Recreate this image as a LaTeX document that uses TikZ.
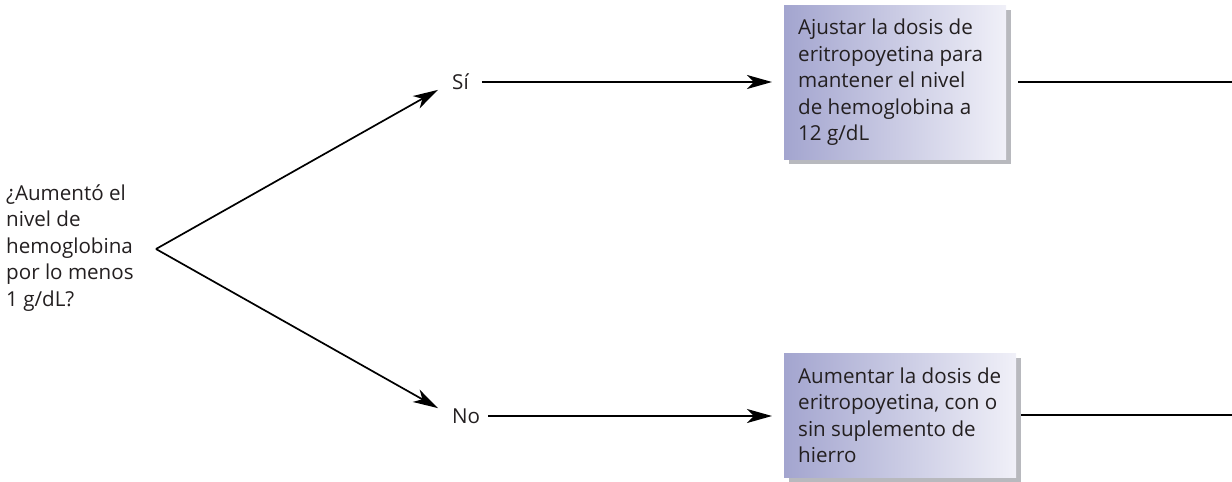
\documentclass[tikz,border=0pt]{standalone}
\usepackage{fontspec}
\setmainfont{Open Sans}
\usetikzlibrary{arrows.meta,shadows}
\definecolor{inkgray}{RGB}{35,31,32}
\definecolor{boxleft}{RGB}{163,165,207}
\definecolor{boxright}{RGB}{240,240,248}
\definecolor{shadowgray}{RGB}{184,185,190}

\begin{document}
\begin{tikzpicture}[x=1pt,y=-1pt,
  txt/.style={font=\fontsize{20.6}{26.5}\selectfont, text=inkgray, align=left, inner sep=0pt},
  answer/.style={font=\fontsize{20.6}{24}\selectfont, text=inkgray, inner sep=0pt},
  actionbox/.style={draw=none, left color=boxleft, right color=boxright, inner sep=0pt,
    anchor=north west,
    drop shadow={shadow xshift=5pt, shadow yshift=-5pt, fill=shadowgray, opacity=1}},
  link/.style={line width=1.7pt, draw=black},
  arr/.style={link, -{Stealth[length=25pt,width=14pt,inset=7pt]}}
]
\useasboundingbox (0,0) rectangle (1232,482);

% question and fork point
\node[txt, anchor=west] (q) at (6,248)
  {¿Aumentó el\\nivel de\\hemoglobina\\por lo menos\\1 g/dL?};
\coordinate (fork) at (156,249);

% answers
\node[answer, anchor=west] (si) at (452,82) {Sí};
\node[answer, anchor=west] (no) at (452,416) {No};

% action boxes
\node[actionbox, minimum width=222pt, minimum height=154pt] (b1) at (784,5) {};
\node[txt, anchor=west] (b1t) at ([xshift=14pt]b1.west)
  {Ajustar la dosis de\\eritropoyetina para\\mantener el nivel\\de hemoglobina a\\12 g/dL};
\node[actionbox, minimum width=232pt, minimum height=124pt] (b2) at (784,353) {};
\node[txt, anchor=west] (b2t) at ([xshift=14pt]b2.west)
  {Aumentar la dosis de\\eritropoyetina, con o\\sin suplemento de\\hierro};

% right edge of the page, where the outgoing lines stop
\coordinate (edge) at (1232,0);

% connectors
\draw[arr, shorten >=16pt] (fork) -- (si.west);
\draw[arr, shorten >=16pt] (fork) -- (no.west);
\draw[arr, shorten <=13pt, shorten >=12pt] (si.east) -- (si.east -| b1.west);
\draw[arr, shorten <=8pt, shorten >=12pt] (no.east) -- (no.east -| b2.west);
\draw[link, shorten <=12pt] (b1.east) -- (b1.east -| edge);
\draw[link, shorten <=5pt] (b2.east) -- (b2.east -| edge);
\end{tikzpicture}
\end{document}
